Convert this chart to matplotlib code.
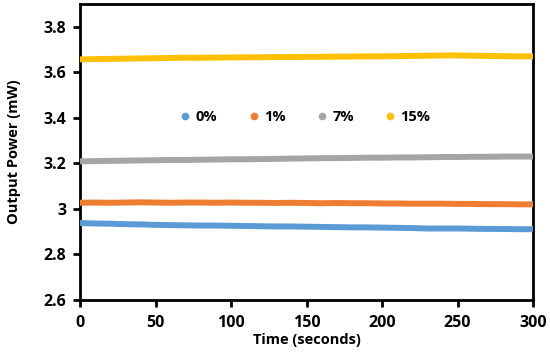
import matplotlib
matplotlib.use("Agg")
import matplotlib.pyplot as plt
from matplotlib.lines import Line2D

plt.rcParams['font.family'] = ['Open Sans', 'DejaVu Sans']
plt.rcParams['font.weight'] = 'bold'

time_s = [0, 10, 20, 30, 40, 50, 60, 70, 80, 90, 100, 110, 120, 130, 140, 150,
          160, 170, 180, 190, 200, 210, 220, 230, 240, 250, 260, 270, 280, 290, 300]

p0 = [2.938, 2.936, 2.935, 2.933, 2.932, 2.930, 2.929, 2.928, 2.927, 2.927, 2.926,
      2.925, 2.924, 2.923, 2.923, 2.922, 2.921, 2.920, 2.919, 2.919, 2.918, 2.917,
      2.916, 2.914, 2.914, 2.914, 2.913, 2.912, 2.912, 2.911, 2.911]
p1 = [3.027, 3.028, 3.027, 3.028, 3.029, 3.028, 3.027, 3.028, 3.028, 3.027, 3.028,
      3.027, 3.027, 3.026, 3.027, 3.026, 3.025, 3.026, 3.025, 3.025, 3.024, 3.024,
      3.023, 3.023, 3.023, 3.022, 3.022, 3.021, 3.021, 3.020, 3.020]
p7 = [3.209, 3.210, 3.211, 3.212, 3.213, 3.214, 3.215, 3.215, 3.216, 3.217, 3.218,
      3.218, 3.219, 3.220, 3.221, 3.222, 3.223, 3.223, 3.224, 3.225, 3.225, 3.226,
      3.226, 3.227, 3.228, 3.228, 3.229, 3.229, 3.230, 3.230, 3.230]
p15 = [3.657, 3.658, 3.659, 3.660, 3.661, 3.662, 3.663, 3.664, 3.664, 3.665, 3.665,
       3.666, 3.666, 3.667, 3.667, 3.668, 3.668, 3.669, 3.669, 3.670, 3.670, 3.671,
       3.672, 3.673, 3.674, 3.674, 3.673, 3.672, 3.671, 3.670, 3.670]

labels = ['0%', '1%', '7%', '15%']
colors = ['#5B9BD5', '#ED7D31', '#A5A5A5', '#FFC000']
series = [p0, p1, p7, p15]

fig = plt.figure(figsize=(5.5, 3.52), dpi=100)
ax = fig.add_axes([80/550, 1 - 300/352, 453/550, 296/352])

for vals, c in zip(series, colors):
    ax.plot(time_s, vals, color=c, lw=4.3, solid_capstyle='round', zorder=3)

ax.set_xlim(0, 300)
ax.set_ylim(2.6, 3.9)
ax.set_xticks(range(0, 301, 50))
ax.set_yticks([2.6, 2.8, 3.0, 3.2, 3.4, 3.6, 3.8])
ax.set_yticklabels(['2.6', '2.8', '3', '3.2', '3.4', '3.6', '3.8'])
for s in ax.spines.values():
    s.set_linewidth(2.0)
    s.set_color('black')
ax.tick_params(axis='both', direction='out', length=5, width=2, labelsize=11.5)
ax.tick_params(axis='x', pad=6)
ax.tick_params(axis='y', pad=5)
for t in ax.get_xticklabels() + ax.get_yticklabels():
    t.set_fontweight('bold')

ax.set_xlabel('Time (seconds)', fontsize=10.5, fontweight='bold', labelpad=1)
ax.set_ylabel('Output Power (mW)', fontsize=10.5, fontweight='bold', labelpad=16)

handles = [Line2D([], [], marker='o', ls='', color=c, markersize=4.5) for c in colors]
leg = ax.legend(handles, labels, ncol=4, frameon=False, loc='center',
                bbox_to_anchor=(0.495, 0.618), prop={'weight': 'bold', 'size': 10.5},
                handletextpad=0.2, columnspacing=2.0, handlelength=1.0)

fig.savefig('out.png', dpi=100)
